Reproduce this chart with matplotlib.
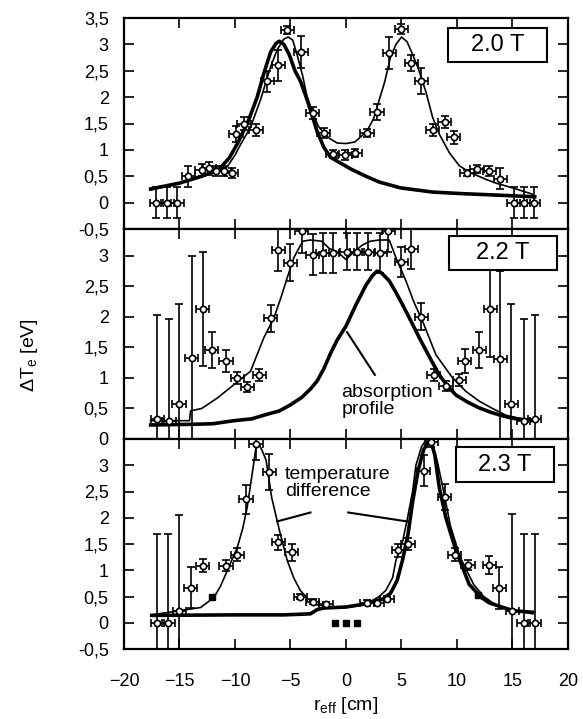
import matplotlib
matplotlib.use('Agg')
import matplotlib.pyplot as plt
from matplotlib.patches import Rectangle
from matplotlib.ticker import FuncFormatter, MultipleLocator

plt.rcParams['font.family'] = ['Liberation Sans', 'DejaVu Sans']
plt.rcParams['mathtext.fontset'] = 'custom'
plt.rcParams['mathtext.rm'] = 'Liberation Sans'
plt.rcParams['mathtext.it'] = 'Liberation Sans'

# ---------------- Panel 1 : 2.0 T ----------------
p1_label = "2.0 T"
p1_temp_x = [-17.6, -15.0, -13.2, -11.5, -10.7, -10.0, -9.5, -8.6, -7.7, -6.8, -6.2, -5.6, -5.2, -4.8,
             -4.4, -3.9, -3.5, -3.0, -2.5, -2.0, -1.5, -0.8, 0.0, 0.8, 1.5, 2.0, 2.5, 3.0, 3.5, 4.0,
             4.5, 5.0, 5.5, 5.9, 6.5, 7.2, 7.8, 8.4, 9.3, 10.2, 11.1, 12.5, 13.5, 15.0, 16.8]
p1_temp_y = [0.24, 0.36, 0.50, 0.60, 0.68, 0.90, 1.10, 1.43, 1.95, 2.57, 2.90, 3.10, 3.14, 3.08,
             2.80, 2.40, 2.00, 1.70, 1.45, 1.32, 1.22, 1.13, 1.12, 1.15, 1.28, 1.40, 1.60, 1.95, 2.30, 2.75,
             3.00, 3.14, 3.05, 2.86, 2.55, 2.10, 1.62, 1.30, 0.95, 0.70, 0.58, 0.45, 0.37, 0.28, 0.16]
p1_abs_x = [-17.6, -15.0, -13.0, -11.5, -10.5, -9.7, -8.8, -8.0, -7.4, -6.8, -6.3, -6.0, -5.6, -5.1,
            -4.6, -4.1, -3.5, -2.6, -2.0, -1.4, -0.5, 0.5, 1.9, 3.0, 4.9, 7.8, 10.5, 13.9, 17.0]
p1_abs_y = [0.26, 0.37, 0.50, 0.62, 0.85, 1.15, 1.55, 2.00, 2.45, 2.85, 3.02, 3.06, 3.00, 2.80,
            2.50, 2.30, 1.95, 1.35, 1.05, 0.86, 0.75, 0.63, 0.49, 0.39, 0.28, 0.20, 0.17, 0.14, 0.11]
p1_pts_x = [-17.1, -16.1, -15.2, -14.2, -13.0, -12.3, -11.7, -11.0, -10.3, -9.9, -9.2, -8.1, -7.1,
            -6.1, -5.3, -4.05, -3.0, -2.0, -1.2, -0.1, 0.8, 1.9, 2.8, 3.9, 5.0, 5.9, 6.8, 7.8, 8.9,
            9.7, 10.9, 11.8, 12.9, 13.9, 15.1, 16.0, 16.9]
p1_pts_y = [0.0, 0.0, 0.0, 0.50, 0.62, 0.65, 0.60, 0.60, 0.56, 1.30, 1.50, 1.38, 2.30,
            2.60, 3.27, 2.85, 1.70, 1.32, 0.92, 0.90, 0.94, 1.32, 1.72, 2.84, 3.29, 2.65, 2.30, 1.38, 1.53,
            1.24, 0.56, 0.64, 0.60, 0.45, 0.0, 0.0, 0.0]
p1_pts_err = [0.3, 0.3, 0.3, 0.2, 0.12, 0.12, 0.1, 0.1, 0.1, 0.15, 0.12, 0.12, 0.2,
              0.3, 0.08, 0.3, 0.12, 0.1, 0.08, 0.1, 0.08, 0.08, 0.15, 0.3, 0.1, 0.15, 0.25, 0.12, 0.12,
              0.12, 0.06, 0.08, 0.1, 0.2, 0.3, 0.3, 0.3]

# ---------------- Panel 2 : 2.2 T ----------------
p2_label = "2.2 T"
p2_temp_x = [-17.6, -14.1, -14.0, -13.0, -11.6, -10.1, -8.6, -7.4, -6.5, -5.8, -5.3, -4.7, -3.9, -3.2,
             -2.2, -1.5, -0.8, 0.0, 0.8, 1.5, 2.2, 3.0, 3.9, 4.5, 5.4, 6.1, 6.9, 8.1, 9.6, 10.8, 12.0,
             13.2, 14.4, 15.6, 16.8]
p2_temp_y = [0.30, 0.30, 0.46, 0.50, 0.67, 0.89, 1.11, 1.66, 1.98, 2.35, 2.64, 2.97, 3.24, 3.26,
             3.24, 3.12, 3.07, 2.94, 3.08, 3.18, 3.24, 3.26, 3.26, 2.97, 2.59, 2.25, 1.93, 1.38, 1.00, 0.78, 0.62,
             0.50, 0.39, 0.34, 0.31]
p2_abs_x = [-17.6, -14.0, -12.0, -10.1, -8.5, -7.4, -6.0, -5.0, -4.0, -3.2, -2.6, -2.0, -1.4, -0.8,
            0.0, 0.9, 1.8, 2.4, 2.8, 3.2, 3.9, 4.5, 5.1, 5.8, 6.6, 7.5, 8.4, 9.1, 9.9, 11.0, 12.0,
            13.0, 14.1, 15.0, 16.2, 17.0]
p2_abs_y = [0.23, 0.24, 0.25, 0.30, 0.33, 0.39, 0.46, 0.56, 0.68, 0.82, 0.95, 1.15, 1.40, 1.62,
            1.85, 2.20, 2.52, 2.68, 2.75, 2.72, 2.59, 2.40, 2.20, 1.95, 1.66, 1.35, 1.05, 0.88, 0.72, 0.60, 0.51,
            0.44, 0.38, 0.34, 0.31, 0.30]
p2_pts_x = [-17.0, -15.95, -15.05, -13.9, -12.9, -12.1, -10.8, -9.8, -8.9, -7.8, -6.8, -6.1, -5.0,
            -4.0, -3.0, -2.1, -1.2, 0.1, 1.0, 2.0, 3.1, 3.8, 5.0, 5.9, 6.8, 7.9, 9.0, 10.2, 10.7, 12.0,
            13.0, 13.9, 14.9, 16.0, 17.0]
p2_pts_y = [0.33, 0.29, 0.57, 1.33, 2.13, 1.46, 1.28, 1.00, 0.85, 1.05, 1.98, 3.10, 2.89,
            3.40, 3.02, 3.05, 3.05, 3.07, 3.07, 3.07, 3.05, 3.41, 2.90, 3.11, 2.00, 1.05, 0.87, 0.97, 1.28, 1.46,
            2.13, 1.31, 0.57, 0.30, 0.33]
p2_pts_err = [1.70, 1.68, 1.64, 1.67, 0.94, 0.29, 0.18, 0.10, 0.08, 0.10, 0.22, 0.35, 0.30,
              0.35, 0.33, 0.33, 0.33, 0.30, 0.30, 0.30, 0.33, 0.35, 0.25, 0.33, 0.22, 0.10, 0.08, 0.10, 0.20, 0.30,
              0.78, 1.44, 1.64, 1.67, 1.70]

# ---------------- Panel 3 : 2.3 T ----------------
p3_label = "2.3 T"
p3_temp_x = [-17.5, -15.0, -13.1, -11.9, -11.3, -10.7, -9.8, -9.3, -8.9, -8.5, -8.1, -7.9, -7.6, -7.2,
             -6.7, -6.0, -5.3, -4.7, -4.1, -3.4, -2.6, -0.8, 0.0, 1.0, 2.0, 3.0, 3.6, 4.2, 4.5, 5.1,
             5.5, 6.0, 6.3, 6.8, 7.2, 7.7, 8.2, 8.8, 9.4, 10.3, 11.5, 12.4, 13.5, 15.6, 16.8]
p3_temp_y = [0.15, 0.23, 0.29, 0.48, 0.70, 0.99, 1.43, 1.80, 2.20, 2.77, 3.35, 3.42, 3.30, 3.10,
             2.39, 1.76, 1.19, 0.85, 0.61, 0.45, 0.34, 0.29, 0.29, 0.32, 0.38, 0.50, 0.62, 0.86, 1.19, 1.55,
             1.95, 2.50, 3.00, 3.35, 3.48, 3.40, 3.10, 2.50, 1.85, 1.24, 0.73, 0.50, 0.34, 0.22, 0.17]
p3_abs_x = [-17.5, -10.0, -5.6, -3.2, -2.6, -2.0, 0.0, 1.5, 2.4, 3.3, 4.0, 4.6, 5.1, 5.6, 6.0,
            6.5, 7.0, 7.6, 8.0, 8.4, 9.0, 9.9, 11.1, 12.2, 12.9, 15.0, 16.8]
p3_abs_y = [0.14, 0.15, 0.15, 0.17, 0.25, 0.28, 0.30, 0.35, 0.40, 0.45, 0.56, 0.80, 1.20, 1.70, 2.30,
            2.90, 3.30, 3.48, 3.20, 2.58, 2.00, 1.38, 0.73, 0.48, 0.38, 0.23, 0.20]
p3_pts_x = [-17.0, -16.0, -15.0, -14.0, -12.9, -10.8, -9.8, -9.0, -8.1, -6.9, -6.1, -4.9, -4.1,
            -3.0, -1.8, 1.9, 2.8, 3.7, 4.7, 5.6, 7.0, 7.7, 8.9, 9.8, 11.0, 12.9, 13.8, 15.0, 16.0, 17.0]
p3_pts_y = [0.0, 0.0, 0.23, 0.67, 1.09, 1.09, 1.30, 2.35, 3.40, 2.87, 1.53, 1.34, 0.50,
            0.40, 0.35, 0.38, 0.38, 0.46, 1.38, 1.50, 2.90, 3.44, 2.39, 1.30, 1.10, 1.10, 0.67, 0.23, 0.0, 0.0]
p3_pts_err = [1.70, 1.70, 1.82, 0.39, 0.12, 0.10, 0.12, 0.27, 0.30, 0.35, 0.15, 0.16, 0.05,
              0.05, 0.05, 0.05, 0.05, 0.05, 0.12, 0.12, 0.30, 0.10, 0.25, 0.12, 0.10, 0.17, 0.40, 1.84, 1.69, 1.69]
p3_filled_x = [-12.1, -1.0, 0.0, 1.0, 11.9]
p3_filled_y = [0.50, 0.0, 0.0, 0.0, 0.52]

x_err = 0.6
xticks = [-20, -15, -10, -5, 0, 5, 10, 15, 20]

fig = plt.figure(figsize=(5.83, 7.19), dpi=100)
L, W = 124 / 583, 444 / 583
ax1 = fig.add_axes([L, 1 - 229 / 719, W, 211 / 719])
ax2 = fig.add_axes([L, 1 - 439 / 719, W, 210 / 719])
ax3 = fig.add_axes([L, 1 - 649 / 719, W, 210 / 719])

comma = FuncFormatter(lambda v, p: ('%g' % v).replace('.', ','))

panels = [
    (ax1, p1_temp_x, p1_temp_y, p1_abs_x, p1_abs_y, p1_pts_x, p1_pts_y, p1_pts_err, p1_label,
     (-0.5, 3.5), [-0.5, 0, 0.5, 1, 1.5, 2, 2.5, 3, 3.5], (0.730, 0.790, 0.223, 0.163)),
    (ax2, p2_temp_x, p2_temp_y, p2_abs_x, p2_abs_y, p2_pts_x, p2_pts_y, p2_pts_err, p2_label,
     (0, 3.44), [0, 0.5, 1, 1.5, 2, 2.5, 3], (0.732, 0.805, 0.243, 0.162)),
    (ax3, p3_temp_x, p3_temp_y, p3_abs_x, p3_abs_y, p3_pts_x, p3_pts_y, p3_pts_err, p3_label,
     (-0.5, 3.5), [-0.5, 0, 0.5, 1, 1.5, 2, 2.5, 3], (0.748, 0.794, 0.220, 0.168)),
]

for (ax, tx, ty, axx, ay, px, py, pe, lab, ylim, yt, box) in panels:
    ax.plot(tx, ty, color='black', lw=1.2, zorder=2)
    ax.plot(axx, ay, color='black', lw=2.6, zorder=2)
    ax.errorbar(px, py, yerr=pe, xerr=x_err, fmt='o', ms=4.5, mfc='white', mec='black',
                mew=1.2, ecolor='black', elinewidth=1.2, capsize=3, capthick=1.2, zorder=3)
    ax.set_xlim(-20, 20)
    ax.set_ylim(*ylim)
    ax.set_xticks(xticks)
    ax.set_yticks(yt)
    ax.yaxis.set_major_formatter(comma)
    ax.tick_params(direction='in', top=True, right=True, length=7, width=1.2,
                   labelsize=13, colors='black')
    ax.tick_params(axis='y', pad=11)
    ax.tick_params(axis='x', pad=17)
    for s in ax.spines.values():
        s.set_linewidth(1.6)
    bx, by, bw, bh = box
    ax.add_patch(Rectangle((bx, by), bw, bh, transform=ax.transAxes, fill=True,
                           facecolor='white', edgecolor='black', lw=1.5, zorder=4))
    ax.text(bx + bw / 2, by + bh / 2, lab, transform=ax.transAxes, ha='center', va='center',
            fontsize=17, zorder=5)

ax1.tick_params(axis='x', labelbottom=False)
ax2.tick_params(axis='x', labelbottom=False)
ax3.plot(p3_filled_x, p3_filled_y, 's', ms=4.5, color='black', zorder=3)

# annotations
ax2.text(-0.4, 0.62, "absorption\nprofile", ha='left', va='center', fontsize=14, linespacing=1.05)
ax2.plot([0.1, 2.6], [1.75, 1.05], color='black', lw=1.5)
ax3.text(-5.5, 2.66, "temperature\ndifference", ha='left', va='center', fontsize=14, linespacing=1.05)
ax3.plot([-6.2, -3.2], [1.93, 2.1], color='black', lw=1.5)
ax3.plot([0.2, 5.5], [2.1, 1.93], color='black', lw=1.5)

fig.text(30 / 583, 1 - 355 / 719, r"$\Delta$T$_\mathrm{e}$ [eV]", rotation=90, ha='center',
         va='center', fontsize=14)
fig.text(346 / 583, 1 - 706 / 719, r"r$_\mathrm{eff}$ [cm]", ha='center', va='center', fontsize=14)

fig.savefig('out.png', dpi=100)
